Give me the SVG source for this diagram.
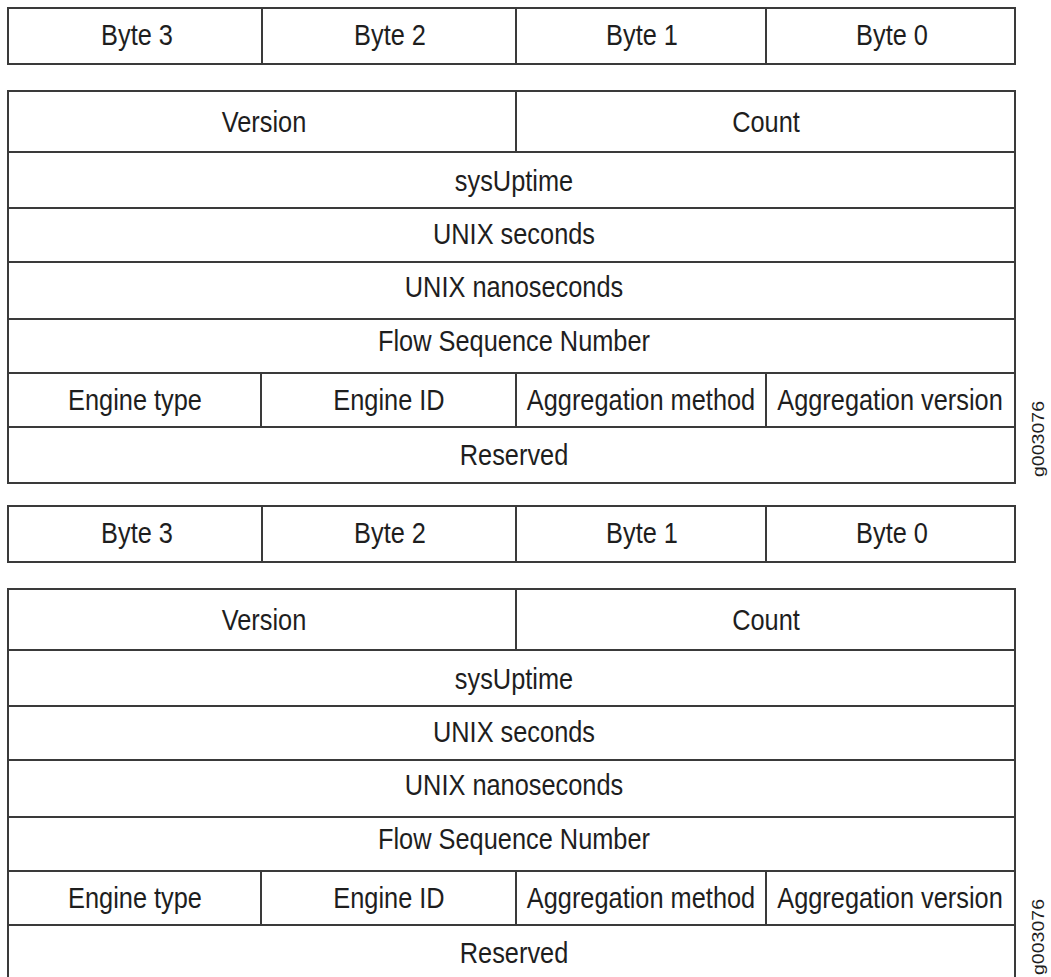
<svg xmlns="http://www.w3.org/2000/svg" width="1051" height="977" viewBox="0 0 1051 977">
<style>
.b{fill:#fff;stroke:#3a3a3a;stroke-width:2}
.l{stroke:#3a3a3a;stroke-width:2;fill:none}
.t{font-family:"Liberation Sans",Arial,sans-serif;font-size:29.5px;fill:#1e1e1e;text-anchor:middle}
.g{font-family:"Liberation Sans",Arial,sans-serif;font-size:17px;fill:#1e1e1e;text-anchor:middle}
</style>
<rect width="1051" height="977" fill="#fff"/>
<g id="header1">
<rect class="b" x="8" y="8" width="1007" height="56"/>
<path class="l" d="M262 8V64M516 8V64M766 8V64"/>
<text class="t" transform="translate(137,44.5) scale(0.86,1)">Byte 3</text>
<text class="t" transform="translate(390,44.5) scale(0.86,1)">Byte 2</text>
<text class="t" transform="translate(642,44.5) scale(0.86,1)">Byte 1</text>
<text class="t" transform="translate(892,44.5) scale(0.86,1)">Byte 0</text>
</g>
<g id="table1">
<rect class="b" x="8" y="91" width="1007" height="392"/>
<path class="l" d="M8 152H1015M8 208H1015M8 262H1015M8 319H1015M8 373H1015M8 427H1015M516 91V152M261 373V427M516 373V427M766 373V427"/>
<text class="t" transform="translate(264,132) scale(0.86,1)">Version</text>
<text class="t" transform="translate(766,132) scale(0.86,1)">Count</text>
<text class="t" transform="translate(514,190.5) scale(0.86,1)">sysUptime</text>
<text class="t" transform="translate(514,243.5) scale(0.86,1)">UNIX seconds</text>
<text class="t" transform="translate(514,297) scale(0.86,1)">UNIX nanoseconds</text>
<text class="t" transform="translate(514,351) scale(0.86,1)">Flow Sequence Number</text>
<text class="t" transform="translate(135,410) scale(0.86,1)">Engine type</text>
<text class="t" transform="translate(389,410) scale(0.86,1)">Engine ID</text>
<text class="t" transform="translate(641,410) scale(0.86,1)">Aggregation method</text>
<text class="t" transform="translate(890,410) scale(0.86,1)">Aggregation version</text>
<text class="t" transform="translate(514,465) scale(0.86,1)">Reserved</text>
</g>
<g id="label1">
<text class="g" transform="translate(1044,439) rotate(-90)" textLength="76" lengthAdjust="spacingAndGlyphs">g003076</text>
</g>
<g id="header2">
<rect class="b" x="8" y="506" width="1007" height="56"/>
<path class="l" d="M262 506V562M516 506V562M766 506V562"/>
<text class="t" transform="translate(137,542.5) scale(0.86,1)">Byte 3</text>
<text class="t" transform="translate(390,542.5) scale(0.86,1)">Byte 2</text>
<text class="t" transform="translate(642,542.5) scale(0.86,1)">Byte 1</text>
<text class="t" transform="translate(892,542.5) scale(0.86,1)">Byte 0</text>
</g>
<g id="table2">
<rect class="b" x="8" y="589" width="1007" height="392"/>
<path class="l" d="M8 650H1015M8 706H1015M8 760H1015M8 817H1015M8 871H1015M8 925H1015M516 589V650M261 871V925M516 871V925M766 871V925"/>
<text class="t" transform="translate(264,630) scale(0.86,1)">Version</text>
<text class="t" transform="translate(766,630) scale(0.86,1)">Count</text>
<text class="t" transform="translate(514,688.5) scale(0.86,1)">sysUptime</text>
<text class="t" transform="translate(514,741.5) scale(0.86,1)">UNIX seconds</text>
<text class="t" transform="translate(514,795) scale(0.86,1)">UNIX nanoseconds</text>
<text class="t" transform="translate(514,849) scale(0.86,1)">Flow Sequence Number</text>
<text class="t" transform="translate(135,908) scale(0.86,1)">Engine type</text>
<text class="t" transform="translate(389,908) scale(0.86,1)">Engine ID</text>
<text class="t" transform="translate(641,908) scale(0.86,1)">Aggregation method</text>
<text class="t" transform="translate(890,908) scale(0.86,1)">Aggregation version</text>
<text class="t" transform="translate(514,963) scale(0.86,1)">Reserved</text>
</g>
<g id="label2">
<text class="g" transform="translate(1044,937) rotate(-90)" textLength="76" lengthAdjust="spacingAndGlyphs">g003076</text>
</g>
<g id="connectors"/>
</svg>
